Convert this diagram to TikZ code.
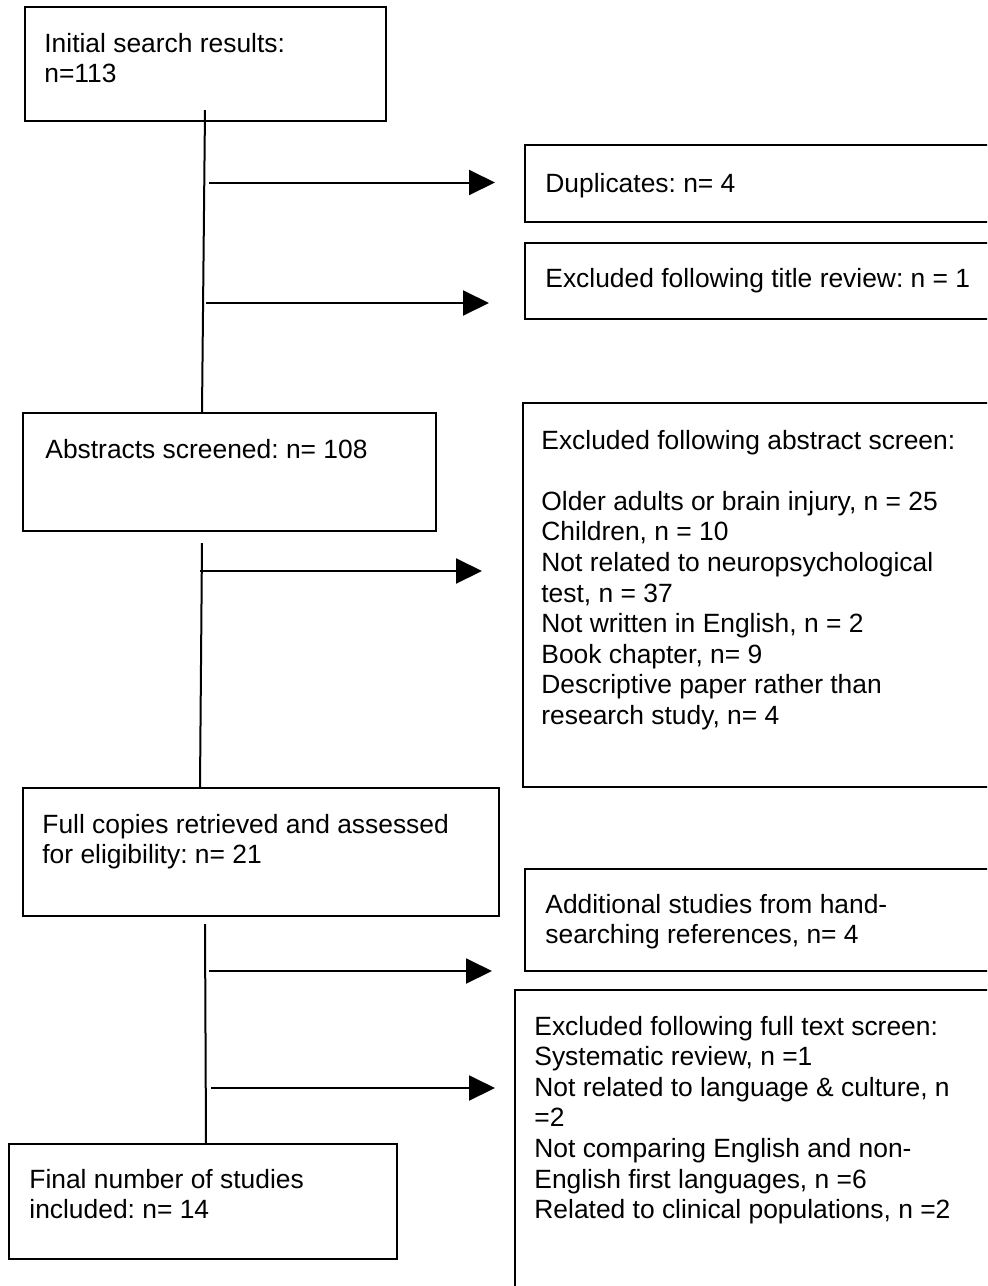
\documentclass[tikz,border=0pt]{standalone}
\usepackage{fontspec}
\setmainfont{Liberation Sans}
\usetikzlibrary{arrows.meta,fit}
\newcommand{\boxlines}[1]{\begin{tabular}[t]{@{}l@{}}#1\end{tabular}}
\frenchspacing
\begin{document}
\begin{tikzpicture}[x=0.5pt,y=-0.5pt,
  box/.style={draw=black, line width=1pt, inner sep=0pt},
  txt/.style={anchor=base west, inner sep=0pt, font=\fontsize{13.2pt}{15.3pt}\selectfont\frenchspacing},
  conn/.style={draw=black, line width=1pt},
  arr/.style={draw=black, line width=1pt, -{Triangle[length=13pt,width=12.5pt]}}]
\useasboundingbox (0,0) rectangle (987,1286);
\clip (0,0) rectangle (987,1286);

% boxes
\node[box, fit={(25,7)(386,121)}] (init) {};
\node[box, fit={(525,145)(1000,222)}] (dup) {};
\node[box, fit={(525,243)(1000,319)}] (title) {};
\node[box, fit={(23,413)(436,531)}] (abs) {};
\node[box, fit={(523,403)(1000,787)}] (exabs) {};
\node[box, fit={(23,788)(499,916)}] (full) {};
\node[box, fit={(525,869)(1000,971)}] (add) {};
\node[box, fit={(515,990)(1000,1300)}] (exfull) {};
\node[box, fit={(9,1144)(397,1259)}] (final) {};

% texts
\node[txt] (tinit) at (44,52) {\boxlines{Initial search results:\\n=113}};
\node[txt] (tdup) at (545,192) {Duplicates: n= 4};
\node[txt] (ttitle) at (545,287) {Excluded following title review: n = 1};
\node[txt] (tabs) at (45,458) {Abstracts screened: n= 108};
\node[txt] (texabs) at (541,449) {\boxlines{Excluded following abstract screen:\\ \\
Older adults or brain injury, n = 25\\
Children, n = 10\\
Not related to neuropsychological\\
test, n = 37\\
Not written in English, n = 2\\
Book chapter, n= 9\\
Descriptive paper rather than\\
research study, n= 4}};
\node[txt] (tfull) at (42,833) {\boxlines{Full copies retrieved and assessed\\for eligibility: n= 21}};
\node[txt] (tadd) at (545,913) {\boxlines{Additional studies from hand-\\searching references, n= 4}};
\node[txt] (texfull) at (534,1035) {\boxlines{Excluded following full text screen:\\
Systematic review, n =1\\
Not related to language \& culture, n\\
=2\\
Not comparing English and non-\\
English first languages, n =6\\
Related to clinical populations, n =2}};
\node[txt] (tfinal) at (29,1188) {\boxlines{Final number of studies\\included: n= 14}};

% connector anchor points
\coordinate (v1s) at (205,110);
\coordinate (v2s) at (202,543);
\coordinate (v3s) at (205,924);
\coordinate (a1s) at (209,182.5);
\coordinate (a2s) at (206,303);
\coordinate (a3s) at (200,571);
\coordinate (a4s) at (209,971);
\coordinate (a5s) at (211,1088);

% vertical connectors
\draw[conn] (v1s) -- ([xshift=-1.5pt]v1s |- abs.north);
\draw[conn] (v2s) -- ([xshift=-1pt]v2s |- full.north);
\draw[conn] (v3s) -- ([xshift=0.5pt]v3s |- final.north);

% horizontal arrows
\draw[arr, shorten >=14.5pt] (a1s) -- (a1s -| dup.west);
\draw[arr, shorten >=17.5pt] (a2s) -- (a2s -| title.west);
\draw[arr, shorten >=20pt] (a3s) -- (a3s -| exabs.west);
\draw[arr, shorten >=16pt] (a4s) -- (a4s -| add.west);
\draw[arr, shorten >=9.5pt] (a5s) -- (a5s -| exfull.west);
\end{tikzpicture}
\end{document}
